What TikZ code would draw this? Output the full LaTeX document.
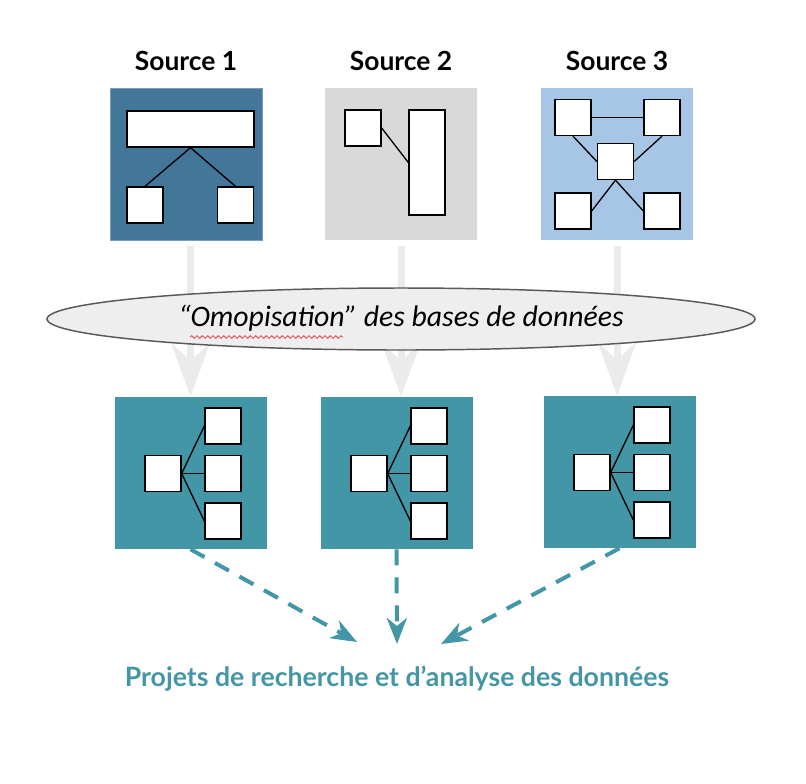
\documentclass[tikz,border=0pt]{standalone}
\usepackage{fontspec}
\setmainfont{Lato}
\newfontfamily\carl{Carlito}
\usetikzlibrary{arrows.meta,decorations.pathmorphing,calc,shapes.geometric}
\definecolor{srcA}{HTML}{43779A}
\definecolor{srcAedge}{HTML}{7A9DB7}
\definecolor{srcB}{HTML}{D9D9D9}
\definecolor{srcC}{HTML}{A7C6E5}
\definecolor{teal}{HTML}{4396A6}
\definecolor{arrowgray}{HTML}{EBEBEB}
\definecolor{ellfill}{HTML}{EEEEEE}
\definecolor{elledge}{HTML}{595959}
\definecolor{wavered}{HTML}{E04040}
\tikzset{
  bigbox/.style={rectangle, inner sep=0pt, minimum width=114pt, minimum height=114pt},
  wbox/.style={rectangle, draw=black, fill=white, line width=1pt, inner sep=0pt,
    minimum width=27pt, minimum height=27pt},
  link/.style={draw=black, line width=1pt},
  title/.style={font=\fontsize{19.8}{23}\selectfont\bfseries, text=black, inner sep=0pt},
  grayarrow/.style={draw=arrowgray, line width=5.25pt,
    -{Stealth[length=39.75pt, width=28.5pt, inset=12.75pt]}},
  tealarrow/.style={draw=teal, line width=3pt, dash pattern=on 12pt off 9pt,
    -{Stealth[length=19.5pt, width=15pt, inset=6pt]}}
}
\newcommand{\myresultbox}[3]{%
  \node[bigbox, fill=teal] (#1) at (#2,#3) {};
  \node[wbox] (#1l) at ($(#1)+(-27.5,0.5)$) {};
  \node[wbox] (#1r1) at ($(#1)+(32.5,-47)$) {};
  \node[wbox] (#1r2) at ($(#1)+(32.5,0.5)$) {};
  \node[wbox] (#1r3) at ($(#1)+(32.5,48)$) {};
  \draw[link] (#1l.east) -- (#1r1.west);
  \draw[link] (#1l.east) -- (#1r2.west);
  \draw[link] (#1l.east) -- (#1r3.west);
}
\begin{document}
\begin{tikzpicture}[x=0.75pt,y=-0.75pt]
\useasboundingbox (0,0) rectangle (806,783);

% titles
\node[title] (h1) at (186,61) {Source 1};
\node[title] (h2) at (401,61) {Source 2};
\node[title] (h3) at (617,61) {Source 3};

% Source 1
\node[bigbox, fill=srcA, draw=srcAedge, line width=0.75pt] (s1) at (186,164) {};
\node[wbox, minimum width=95.25pt] (r1) at (190.5,129) {};
\node[wbox] (a1) at (145,205) {};
\node[wbox] (b1) at (235.5,205) {};
\draw[link] (r1.south) -- (a1.north);
\draw[link] (r1.south) -- (b1.north);

% Source 2
\node[bigbox, fill=srcB] (s2) at (401,164) {};
\node[wbox] (c2) at (363,128) {};
\node[wbox, minimum height=78.75pt] (d2) at (427,162.5) {};
\draw[link] (c2.east) -- (d2.west);

% Source 3
\node[bigbox, fill=srcC] (s3) at (617,164) {};
\node[wbox] (tl3) at (573,117.5) {};
\node[wbox] (tr3) at (662,117.5) {};
\node[wbox] (m3) at (615.5,161.5) {};
\node[wbox] (bl3) at (573,211) {};
\node[wbox] (br3) at (662,211) {};
\draw[link] (tl3.east) -- (tr3.west);
\draw[link] (tl3.south) -- (m3.west);
\draw[link] (tr3.south) -- (m3.east);
\draw[link] (m3.south) -- (bl3.east);
\draw[link] (m3.south) -- (br3.west);

% result boxes
\myresultbox{t1}{190.5}{473}
\myresultbox{t2}{396.5}{473}
\myresultbox{t3}{619.5}{472}

% gray arrows
\draw[grayarrow, shorten <=4pt] (t1.north |- s1.south) -- (t1.north);
\draw[grayarrow, shorten <=4pt] (s2.south) -- (s2.south |- t2.north);
\draw[grayarrow, shorten <=4pt] (s3.south) -- (s3.south |- t3.north);

% ellipse
\node[ellipse, draw=elledge, fill=ellfill, line width=1.1pt, inner sep=0pt,
  minimum width=531pt, minimum height=46.5pt] (el) at (401,319) {};
\node[font=\carl\itshape\fontsize{22.3}{26}\selectfont, inner sep=0pt] (eltext) at (401,318) {“Omopisation” des bases de données};
\coordinate (w1) at (190,337);
\coordinate (w2) at (343,337);
\draw[wavered, line width=0.6pt, decoration={snake, amplitude=1pt, segment length=4pt}, decorate] (w1) -- (w2);

% bottom text
\node[font=\fontsize{20}{24}\selectfont\bfseries, text=teal, inner sep=0pt] (proj) at (397,679) {Projets de recherche et d’analyse des données};

% dashed arrows
\coordinate (pa) at (357,642);
\coordinate (pb) at (397,644);
\coordinate (pc) at (441,644);
\draw[tealarrow] (t1.south) -- (pa);
\draw[tealarrow] (t2.south) -- (pb);
\draw[tealarrow] (t3.south) -- (pc);
\end{tikzpicture}
\end{document}
